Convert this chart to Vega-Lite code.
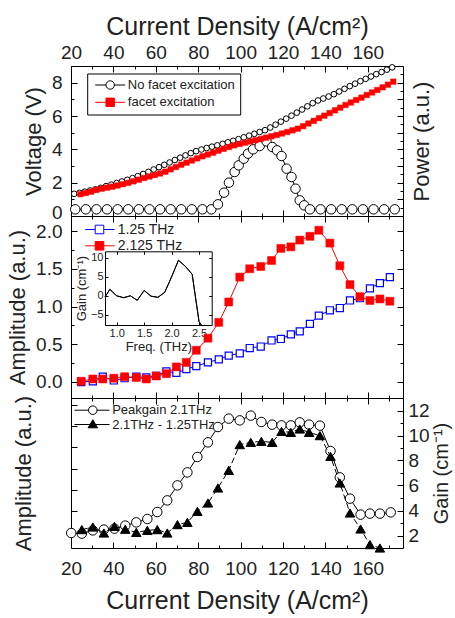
{
  "$schema": "https://vega.github.io/schema/vega-lite/v6.json",
  "padding": {"left": 6, "top": 13, "right": 4, "bottom": 4},
  "bounds": "flush",
  "spacing": 0,
  "resolve": {"scale": {"shape": "independent", "fill": "independent", "stroke": "independent"}, "legend": {"shape": "independent", "fill": "independent", "stroke": "independent"}},
  "config": {
    "view": {"stroke": "#000", "strokeWidth": 1},
    "font": "Liberation Sans",
    "axis": {"domain": false, "grid": false, "tickColor": "#000", "tickWidth": 1, "tickSize": -6, "labelFlush": false, "labelOverlap": false, "labelFont": "Liberation Sans", "labelFontSize": 19, "labelColor": "#222", "titleFont": "Liberation Sans", "titleFontSize": 22, "titleFontWeight": "normal", "titleColor": "#222"},
    "legend": {"labelFont": "Liberation Sans", "labelColor": "#222", "symbolSize": 36, "symbolStrokeWidth": 1, "symbolOpacity": 1}
  },
  "datasets": {
    "vnf": [{"j":21.5,"v":1.33},{"j":24,"v":1.39},{"j":26.5,"v":1.46},{"j":29,"v":1.53},{"j":31.5,"v":1.6},{"j":34,"v":1.69},{"j":36.5,"v":1.79},{"j":39,"v":1.88},{"j":41.5,"v":1.98},{"j":44,"v":2.07},{"j":46.5,"v":2.17},{"j":49,"v":2.27},{"j":51.5,"v":2.39},{"j":54,"v":2.52},{"j":56.5,"v":2.65},{"j":59,"v":2.79},{"j":61.5,"v":2.93},{"j":64,"v":3.07},{"j":66.5,"v":3.21},{"j":69,"v":3.36},{"j":71.5,"v":3.5},{"j":74,"v":3.64},{"j":76.5,"v":3.77},{"j":79,"v":3.89},{"j":81.5,"v":3.99},{"j":84,"v":4.08},{"j":86.5,"v":4.16},{"j":89,"v":4.24},{"j":91.5,"v":4.33},{"j":94,"v":4.42},{"j":96.5,"v":4.51},{"j":99,"v":4.61},{"j":101.5,"v":4.72},{"j":104,"v":4.82},{"j":106.5,"v":4.93},{"j":109,"v":5.04},{"j":111.5,"v":5.15},{"j":114,"v":5.31},{"j":116.5,"v":5.48},{"j":119,"v":5.66},{"j":121.5,"v":5.84},{"j":124,"v":6.02},{"j":126.5,"v":6.2},{"j":129,"v":6.39},{"j":131.5,"v":6.58},{"j":134,"v":6.77},{"j":136.5,"v":6.93},{"j":139,"v":7.05},{"j":141.5,"v":7.17},{"j":144,"v":7.31},{"j":146.5,"v":7.47},{"j":149,"v":7.63},{"j":151.5,"v":7.79},{"j":154,"v":7.94},{"j":156.5,"v":8.09},{"j":159,"v":8.23},{"j":161.5,"v":8.37},{"j":164,"v":8.51},{"j":166.5,"v":8.64},{"j":169,"v":8.78},{"j":171.5,"v":8.92}],
    "vf": [{"j":24.5,"v":1.31},{"j":27,"v":1.38},{"j":29.5,"v":1.46},{"j":32,"v":1.57},{"j":34.5,"v":1.64},{"j":37,"v":1.7},{"j":39.5,"v":1.76},{"j":42,"v":1.83},{"j":44.5,"v":1.91},{"j":47,"v":1.99},{"j":49.5,"v":2.08},{"j":52,"v":2.18},{"j":54.5,"v":2.28},{"j":57,"v":2.37},{"j":59.5,"v":2.46},{"j":62,"v":2.55},{"j":64.5,"v":2.66},{"j":67,"v":2.8},{"j":69.5,"v":2.94},{"j":72,"v":3.08},{"j":74.5,"v":3.2},{"j":77,"v":3.33},{"j":79.5,"v":3.46},{"j":82,"v":3.58},{"j":84.5,"v":3.69},{"j":87,"v":3.8},{"j":89.5,"v":3.92},{"j":92,"v":4.03},{"j":94.5,"v":4.14},{"j":97,"v":4.24},{"j":99.5,"v":4.32},{"j":102,"v":4.4},{"j":104.5,"v":4.47},{"j":107,"v":4.55},{"j":109.5,"v":4.62},{"j":112,"v":4.7},{"j":114.5,"v":4.78},{"j":117,"v":4.86},{"j":119.5,"v":4.95},{"j":122,"v":5.04},{"j":124.5,"v":5.14},{"j":127,"v":5.24},{"j":129.5,"v":5.39},{"j":132,"v":5.55},{"j":134.5,"v":5.71},{"j":137,"v":5.87},{"j":139.5,"v":6.02},{"j":142,"v":6.18},{"j":144.5,"v":6.34},{"j":147,"v":6.5},{"j":149.5,"v":6.66},{"j":152,"v":6.81},{"j":154.5,"v":6.96},{"j":157,"v":7.1},{"j":159.5,"v":7.26},{"j":162,"v":7.41},{"j":164.5,"v":7.56},{"j":167,"v":7.72},{"j":169.5,"v":7.88},{"j":172,"v":8.06}],
    "pow": [{"j":22,"p":0.4},{"j":27,"p":0.4},{"j":32,"p":0.4},{"j":37,"p":0.4},{"j":42,"p":0.4},{"j":47,"p":0.4},{"j":52,"p":0.4},{"j":57,"p":0.4},{"j":62,"p":0.4},{"j":67,"p":0.4},{"j":72,"p":0.4},{"j":77,"p":0.4},{"j":82,"p":0.4},{"j":86.2,"p":0.4},{"j":89.3,"p":0.7},{"j":92.2,"p":1.4},{"j":94.5,"p":2.0},{"j":97.2,"p":2.64},{"j":99.1,"p":3.04},{"j":101.5,"p":3.44},{"j":103.5,"p":3.74},{"j":105.9,"p":4.0},{"j":109,"p":4.2},{"j":112.2,"p":4.48},{"j":114.9,"p":4.14},{"j":117.2,"p":3.94},{"j":119.3,"p":3.6},{"j":121.7,"p":2.84},{"j":124,"p":2.34},{"j":125.9,"p":1.64},{"j":127.9,"p":0.94},{"j":130,"p":0.64},{"j":132.7,"p":0.4},{"j":137.7,"p":0.4},{"j":142.7,"p":0.4},{"j":147.7,"p":0.4},{"j":152.7,"p":0.4},{"j":157.7,"p":0.4},{"j":162.7,"p":0.4},{"j":167.7,"p":0.4},{"j":172.7,"p":0.4}],
    "a125": [{"j":24.8,"a":0.0},{"j":30.3,"a":0.01},{"j":35.0,"a":0.07},{"j":40.2,"a":0.02},{"j":45.3,"a":0.05},{"j":50.8,"a":0.07},{"j":55.5,"a":0.06},{"j":60.2,"a":0.08},{"j":65.0,"a":0.14},{"j":69.7,"a":0.12},{"j":74.4,"a":0.17},{"j":79.1,"a":0.21},{"j":84.6,"a":0.26},{"j":89.7,"a":0.3},{"j":94.4,"a":0.35},{"j":99.6,"a":0.38},{"j":104.3,"a":0.45},{"j":109.5,"a":0.47},{"j":114.6,"a":0.55},{"j":119.0,"a":0.57},{"j":123.7,"a":0.63},{"j":127.9,"a":0.67},{"j":132.7,"a":0.77},{"j":136.9,"a":0.88},{"j":142.1,"a":0.95},{"j":146.8,"a":0.98},{"j":151.6,"a":1.08},{"j":156.3,"a":1.11},{"j":161.0,"a":1.24},{"j":165.7,"a":1.31},{"j":170.4,"a":1.39}],
    "a2125": [{"j":24.8,"a":0.01},{"j":30.3,"a":0.04},{"j":35.0,"a":0.04},{"j":40.2,"a":0.05},{"j":45.3,"a":0.07},{"j":50.8,"a":0.06},{"j":55.5,"a":0.04},{"j":60.2,"a":0.08},{"j":65.0,"a":0.11},{"j":69.7,"a":0.2},{"j":74.4,"a":0.26},{"j":79.1,"a":0.42},{"j":84.6,"a":0.58},{"j":89.7,"a":0.79},{"j":94.4,"a":1.06},{"j":99.6,"a":1.39},{"j":104.3,"a":1.5},{"j":109.5,"a":1.53},{"j":114.6,"a":1.61},{"j":119.0,"a":1.77},{"j":123.7,"a":1.79},{"j":127.9,"a":1.88},{"j":132.7,"a":1.93},{"j":136.9,"a":2.01},{"j":142.1,"a":1.84},{"j":146.8,"a":1.54},{"j":151.6,"a":1.29},{"j":156.3,"a":1.13},{"j":161.0,"a":1.08},{"j":165.7,"a":1.1},{"j":170.4,"a":1.07}],
    "ins": [{"f":0.787,"g":-0.3},{"f":0.875,"g":1.7},{"f":1.0,"g":0.0},{"f":1.125,"g":-0.5},{"f":1.25,"g":0.0},{"f":1.375,"g":-1.2},{"f":1.5,"g":1.4},{"f":1.625,"g":-0.1},{"f":1.75,"g":-0.4},{"f":1.875,"g":0.9},{"f":2.0,"g":5.0},{"f":2.125,"g":9.4},{"f":2.25,"g":7.8},{"f":2.375,"g":5.7},{"f":2.5,"g":-6.8},{"f":2.54,"g":-7.72}],
    "peak": [{"j":20.1,"g":2.2},{"j":25.1,"g":2.15},{"j":30.3,"g":2.41},{"j":35.5,"g":2.47},{"j":40.5,"g":2.55},{"j":45.6,"g":2.79},{"j":50.8,"g":3.05},{"j":56.0,"g":3.32},{"j":60.7,"g":3.88},{"j":65.4,"g":4.81},{"j":70.2,"g":6.01},{"j":74.9,"g":7.05},{"j":79.6,"g":8.28},{"j":84.6,"g":9.45},{"j":89.3,"g":10.68},{"j":94.4,"g":11.35},{"j":99.6,"g":11.21},{"j":104.8,"g":11.59},{"j":109.8,"g":11.08},{"j":114.9,"g":10.87},{"j":119.3,"g":10.81},{"j":123.7,"g":10.81},{"j":127.9,"g":11.05},{"j":132.3,"g":10.87},{"j":137.4,"g":10.79},{"j":142.4,"g":8.76},{"j":146.8,"g":6.65},{"j":151.6,"g":4.95},{"j":156.6,"g":3.67},{"j":161.0,"g":3.75},{"j":165.7,"g":3.75},{"j":170.8,"g":3.85}],
    "diff": [{"j":25.1,"g":2.47},{"j":30.3,"g":2.68},{"j":35.5,"g":2.2},{"j":40.5,"g":2.73},{"j":45.6,"g":2.5},{"j":50.8,"g":2.25},{"j":56.0,"g":2.41},{"j":60.7,"g":2.47},{"j":65.4,"g":2.2},{"j":70.2,"g":2.87},{"j":74.9,"g":3.05},{"j":79.6,"g":3.93},{"j":84.6,"g":4.6},{"j":89.3,"g":5.8},{"j":94.4,"g":7.21},{"j":99.6,"g":9.27},{"j":104.8,"g":9.45},{"j":109.8,"g":9.53},{"j":114.9,"g":9.45},{"j":119.3,"g":10.33},{"j":123.7,"g":10.25},{"j":127.9,"g":10.52},{"j":132.3,"g":10.25},{"j":137.4,"g":9.99},{"j":142.4,"g":8.33},{"j":146.8,"g":6.2},{"j":151.6,"g":3.8},{"j":156.6,"g":2.52},{"j":161.0,"g":1.27},{"j":165.7,"g":1.0}],
    "legTop": [{"s": "No facet excitation"}, {"s": "facet excitation"}],
    "legMid": [{"s": "1.25 THz"}, {"s": "2.125 THz"}],
    "legBot": [{"s": "Peakgain 2.1THz"}, {"s": "2.1THz - 1.25THz"}]
  },
  "vconcat": [
    {
      "width": 332, "height": 150,
      "resolve": {"scale": {"x": "independent", "y": "independent"}, "axis": {"x": "independent", "y": "independent"}},
      "layer": [
        {"data": {"name": "pow"}, "mark": {"type": "line", "stroke": "#000", "strokeWidth": 1},
         "encoding": {
           "x": {"field": "j", "type": "quantitative", "scale": {"domain": [20, 176.6], "nice": false, "zero": false}, "axis": null},
           "y": {"field": "p", "type": "quantitative", "scale": {"domain": [0, 9], "nice": false, "zero": false}, "axis": null}}},
        {"data": {"name": "pow"}, "mark": {"type": "point", "shape": "circle", "size": 90, "fill": "#fff", "stroke": "#000", "strokeWidth": 1, "opacity": 1},
         "encoding": {
           "x": {"field": "j", "type": "quantitative", "scale": {"domain": [20, 176.6], "nice": false, "zero": false}, "axis": null},
           "y": {"field": "p", "type": "quantitative", "scale": {"domain": [0, 9], "nice": false, "zero": false}, "axis": null}}},
        {"data": {"name": "vnf"}, "mark": {"type": "line", "stroke": "#000", "strokeWidth": 1},
         "encoding": {
           "x": {"field": "j", "type": "quantitative", "scale": {"domain": [20, 176.6], "nice": false, "zero": false},
                 "axis": {"orient": "top", "values": [20,40,60,80,100,120,140,160], "title": "Current Density (A/cm²)", "titleFontSize": 25, "labelPadding": 10, "titlePadding": 4}},
           "y": {"field": "v", "type": "quantitative", "scale": {"domain": [0, 9], "nice": false, "zero": false},
                 "axis": {"orient": "left", "values": [0,2,4,6,8], "title": "Voltage (V)", "labelPadding": 15, "titlePadding": 6, "labelOffset": {"condition": {"test": "datum.value === 0", "value": -4}, "value": 0}}}}},
        {"data": {"name": "vnf"}, "mark": {"type": "point", "shape": "circle", "size": 32, "fill": "#fff", "stroke": "#000", "strokeWidth": 1, "opacity": 1},
         "encoding": {
           "x": {"field": "j", "type": "quantitative", "scale": {"domain": [20, 176.6], "nice": false, "zero": false},
                 "axis": {"orient": "top", "values": [30,50,70,90,110,130,150,170], "labels": false, "tickSize": -3, "title": null}},
           "y": {"field": "v", "type": "quantitative", "scale": {"domain": [0, 9], "nice": false, "zero": false},
                 "axis": {"orient": "left", "values": [1,3,5,7,9], "labels": false, "tickSize": -3, "title": null}}}},
        {"data": {"name": "vf"}, "mark": {"type": "line", "stroke": "#ff0000", "strokeWidth": 1},
         "encoding": {
           "x": {"field": "j", "type": "quantitative", "scale": {"domain": [20, 176.6], "nice": false, "zero": false},
                 "axis": {"orient": "bottom", "values": [20,40,60,80,100,120,140,160], "labels": false, "title": null}},
           "y": {"field": "v", "type": "quantitative", "scale": {"domain": [0, 9], "nice": false, "zero": false},
                 "axis": {"orient": "right", "values": [0,1,2,3,4,5,6,7,8,9], "labels": false, "title": "Power (a.u.)", "titleAngle": 270, "titleBaseline": "top", "titlePadding": 8}}}},
        {"data": {"name": "vf"}, "mark": {"type": "point", "shape": "square", "size": 30, "fill": "#ff0000", "stroke": "#ff0000", "strokeWidth": 0.5, "opacity": 1},
         "encoding": {
           "x": {"field": "j", "type": "quantitative", "scale": {"domain": [20, 176.6], "nice": false, "zero": false},
                 "axis": {"orient": "bottom", "values": [30,50,70,90,110,130,150,170], "labels": false, "tickSize": -3, "title": null}},
           "y": {"field": "v", "type": "quantitative", "scale": {"domain": [0, 9], "nice": false, "zero": false},
                 "axis": {"orient": "right", "values": [0.5,1.5,2.5,3.5,4.5,5.5,6.5,7.5,8.5], "labels": false, "tickSize": -3, "title": null}}}},
        {"data": {"name": "legTop"}, "mark": {"type": "point", "size": 36, "strokeWidth": 1, "opacity": 0},
         "encoding": {
           "shape": {"field": "s", "type": "nominal", "scale": {"domain": ["No facet excitation", "facet excitation"], "range": ["M-1.17,0H2.43M5.23,0H8.83M5.23,0A1.4,1.4 0 1 1 2.43,0A1.4,1.4 0 1 1 5.23,0", "M-1.17,0H8.83M2.43,-1.4H5.23V1.4H2.43Z"]},
                     "legend": {"title": null, "orient": "none", "legendX": 16.2, "legendY": 7.5, "direction": "vertical", "padding": 5, "strokeColor": "#000", "fillColor": "#fff", "labelFontSize": 13, "symbolOffset": 0, "labelOffset": 22.6, "rowPadding": 3.3}},
           "fill": {"field": "s", "type": "nominal", "scale": {"domain": ["No facet excitation", "facet excitation"], "range": ["#ffffff", "#ff0000"]},
                     "legend": {"title": null, "orient": "none", "legendX": 16.2, "legendY": 7.5, "direction": "vertical", "padding": 5, "strokeColor": "#000", "fillColor": "#fff", "labelFontSize": 13, "symbolOffset": 0, "labelOffset": 22.6, "rowPadding": 3.3}},
           "stroke": {"field": "s", "type": "nominal", "scale": {"domain": ["No facet excitation", "facet excitation"], "range": ["#000000", "#ff0000"]},
                     "legend": {"title": null, "orient": "none", "legendX": 16.2, "legendY": 7.5, "direction": "vertical", "padding": 5, "strokeColor": "#000", "fillColor": "#fff", "labelFontSize": 13, "symbolOffset": 0, "labelOffset": 22.6, "rowPadding": 3.3}}}}
      ]
    },
    {
      "width": 332, "height": 182,
      "resolve": {"scale": {"x": "independent", "y": "independent"}, "axis": {"x": "independent", "y": "independent"}},
      "layer": [
        {"data": {"name": "a125"}, "mark": {"type": "line", "stroke": "#0000ff", "strokeWidth": 1},
         "encoding": {
           "x": {"field": "j", "type": "quantitative", "scale": {"domain": [20, 176.6], "nice": false, "zero": false},
                 "axis": {"orient": "top", "values": [20,40,60,80,100,120,140,160], "labels": false, "title": null}},
           "y": {"field": "a", "type": "quantitative", "scale": {"domain": [-0.212, 2.199], "nice": false, "zero": false},
                 "axis": {"orient": "left", "values": [0,0.5,1,1.5,2], "format": ".1f", "title": "Amplitude (a.u.)", "labelPadding": 15, "titlePadding": 6}}}},
        {"data": {"name": "a125"}, "mark": {"type": "point", "shape": "square", "size": 50, "fill": "#fff", "stroke": "#0000ff", "strokeWidth": 1.2, "opacity": 1},
         "encoding": {
           "x": {"field": "j", "type": "quantitative", "scale": {"domain": [20, 176.6], "nice": false, "zero": false},
                 "axis": {"orient": "top", "values": [30,50,70,90,110,130,150,170], "labels": false, "tickSize": -3, "title": null}},
           "y": {"field": "a", "type": "quantitative", "scale": {"domain": [-0.212, 2.199], "nice": false, "zero": false},
                 "axis": {"orient": "left", "values": [0.25,0.75,1.25,1.75], "labels": false, "tickSize": -3, "title": null}}}},
        {"data": {"name": "a2125"}, "mark": {"type": "line", "stroke": "#ff0000", "strokeWidth": 1},
         "encoding": {
           "x": {"field": "j", "type": "quantitative", "scale": {"domain": [20, 176.6], "nice": false, "zero": false},
                 "axis": {"orient": "bottom", "values": [20,40,60,80,100,120,140,160], "labels": false, "title": null}},
           "y": {"field": "a", "type": "quantitative", "scale": {"domain": [-0.212, 2.199], "nice": false, "zero": false},
                 "axis": {"orient": "right", "values": [0,0.5,1,1.5,2], "labels": false, "title": null}}}},
        {"data": {"name": "a2125"}, "mark": {"type": "point", "shape": "square", "size": 64, "fill": "#ff0000", "stroke": "#ff0000", "strokeWidth": 0.5, "opacity": 1},
         "encoding": {
           "x": {"field": "j", "type": "quantitative", "scale": {"domain": [20, 176.6], "nice": false, "zero": false},
                 "axis": {"orient": "bottom", "values": [30,50,70,90,110,130,150,170], "labels": false, "tickSize": -3, "title": null}},
           "y": {"field": "a", "type": "quantitative", "scale": {"domain": [-0.212, 2.199], "nice": false, "zero": false},
                 "axis": {"orient": "right", "values": [0.25,0.75,1.25,1.75], "labels": false, "tickSize": -3, "title": null}}}},
        {"data": {"name": "ins"}, "mark": {"type": "line", "stroke": "#000", "strokeWidth": 1},
         "encoding": {
           "x": {"field": "f", "type": "quantitative", "scale": {"domain": [0.787, 2.731], "range": [34, 140.7], "nice": false, "zero": false},
                 "axis": {"orient": "bottom", "offset": -73, "values": [1,1.5,2,2.5], "format": ".1f", "labelFontSize": 11, "tickSize": -3, "labelPadding": 5, "title": "Freq. (THz)", "titleFontSize": 13, "titlePadding": 2, "domain": true, "domainColor": "#000"}},
           "y": {"field": "g", "type": "quantitative", "scale": {"domain": [-7.72, 11.77], "range": [109, 35.3], "nice": false, "zero": false},
                 "axis": {"orient": "left", "offset": -34, "values": [-5,0,5,10], "labelFontSize": 11, "tickSize": -3, "labelPadding": 5, "title": "Gain (cm⁻¹)", "titleFontSize": 13, "titlePadding": 2, "domain": true, "domainColor": "#000"}}}},
        {"data": {"name": "ins"}, "mark": {"type": "line", "stroke": "#000", "strokeWidth": 1},
         "encoding": {
           "x": {"field": "f", "type": "quantitative", "scale": {"domain": [0.787, 2.731], "range": [34, 140.7], "nice": false, "zero": false},
                 "axis": {"orient": "top", "offset": -35.3, "values": [1,1.5,2,2.5], "labels": false, "tickSize": -3, "title": null, "domain": true, "domainColor": "#000"}},
           "y": {"field": "g", "type": "quantitative", "scale": {"domain": [-7.72, 11.77], "range": [109, 35.3], "nice": false, "zero": false},
                 "axis": {"orient": "right", "offset": -191.3, "values": [-5,0,5,10], "labels": false, "tickSize": -3, "title": null, "domain": true, "domainColor": "#000"}}}},
        {"data": {"name": "legMid"}, "mark": {"type": "point", "size": 36, "strokeWidth": 1.2, "opacity": 0},
         "encoding": {
           "shape": {"field": "s", "type": "nominal", "scale": {"domain": ["1.25 THz", "2.125 THz"], "range": ["M-0.93,0H2.4M5.26,0H8.83M2.4,-1.43H5.26V1.43H2.4Z", "M-0.93,0H8.83M2.4,-1.43H5.26V1.43H2.4Z"]},
                     "legend": {"title": null, "orient": "none", "legendX": 10, "legendY": 6.5, "direction": "vertical", "padding": 0, "labelFontSize": 14, "symbolOffset": 0, "labelOffset": 22.8, "rowPadding": 2.3}},
           "fill": {"field": "s", "type": "nominal", "scale": {"domain": ["1.25 THz", "2.125 THz"], "range": ["#ffffff", "#ff0000"]},
                     "legend": {"title": null, "orient": "none", "legendX": 10, "legendY": 6.5, "direction": "vertical", "padding": 0, "labelFontSize": 14, "symbolOffset": 0, "labelOffset": 22.8, "rowPadding": 2.3}},
           "stroke": {"field": "s", "type": "nominal", "scale": {"domain": ["1.25 THz", "2.125 THz"], "range": ["#0000ff", "#ff0000"]},
                     "legend": {"title": null, "orient": "none", "legendX": 10, "legendY": 6.5, "direction": "vertical", "padding": 0, "labelFontSize": 14, "symbolOffset": 0, "labelOffset": 22.8, "rowPadding": 2.3}}}}
      ]
    },
    {
      "width": 332, "height": 150,
      "resolve": {"scale": {"x": "independent", "y": "independent"}, "axis": {"x": "independent", "y": "independent"}},
      "layer": [
        {"data": {"name": "peak"}, "mark": {"type": "line", "stroke": "#000", "strokeWidth": 1},
         "encoding": {
           "x": {"field": "j", "type": "quantitative", "scale": {"domain": [20, 176.6], "nice": false, "zero": false},
                 "axis": {"orient": "bottom", "values": [20,40,60,80,100,120,140,160], "title": "Current Density (A/cm²)", "titleFontSize": 25, "labelPadding": 17, "titlePadding": 10}},
           "y": {"field": "g", "type": "quantitative", "scale": {"domain": [1, 13], "nice": false, "zero": false},
                 "axis": {"orient": "right", "values": [2,4,6,8,10,12], "title": "Gain (cm⁻¹)", "titleFontSize": 20, "labelPadding": 11, "titlePadding": 2, "titleAngle": 270, "titleBaseline": "top"}}}},
        {"data": {"name": "peak"}, "mark": {"type": "point", "shape": "circle", "size": 90, "fill": "#fff", "stroke": "#000", "strokeWidth": 1, "opacity": 1},
         "encoding": {
           "x": {"field": "j", "type": "quantitative", "scale": {"domain": [20, 176.6], "nice": false, "zero": false},
                 "axis": {"orient": "bottom", "values": [30,50,70,90,110,130,150,170], "labels": false, "tickSize": -3, "title": null}},
           "y": {"field": "g", "type": "quantitative", "scale": {"domain": [1, 13], "nice": false, "zero": false},
                 "axis": {"orient": "right", "values": [3,5,7,9,11], "labels": false, "tickSize": -3, "title": null}}}},
        {"data": {"name": "diff"}, "mark": {"type": "line", "stroke": "#000", "strokeWidth": 1, "strokeDash": [6, 3]},
         "encoding": {
           "x": {"field": "j", "type": "quantitative", "scale": {"domain": [20, 176.6], "nice": false, "zero": false},
                 "axis": {"orient": "top", "values": [20,40,60,80,100,120,140,160], "labels": false, "title": null}},
           "y": {"field": "g", "type": "quantitative", "scale": {"domain": [1, 13], "nice": false, "zero": false},
                 "axis": {"orient": "left", "values": [2.2,3.94,5.66,7.32,9.08,10.78,12.46], "labels": false, "title": "Amplitude (a.u.)", "titlePadding": 35}}}},
        {"data": {"name": "diff"}, "mark": {"type": "point", "shape": "triangle-up", "size": 90, "fill": "#000", "stroke": "#000", "strokeWidth": 1, "opacity": 1},
         "encoding": {
           "x": {"field": "j", "type": "quantitative", "scale": {"domain": [20, 176.6], "nice": false, "zero": false},
                 "axis": {"orient": "top", "values": [30,50,70,90,110,130,150,170], "labels": false, "tickSize": -3, "title": null}},
           "y": {"field": "g", "type": "quantitative", "scale": {"domain": [1, 13], "nice": false, "zero": false}, "axis": null}}},
        {"data": {"name": "legBot"}, "mark": {"type": "point", "size": 36, "strokeWidth": 1, "opacity": 0},
         "encoding": {
           "shape": {"field": "s", "type": "nominal", "scale": {"domain": ["Peakgain 2.1THz", "2.1THz - 1.25THz"], "range": ["M-1.67,0H3M5.86,0H10M5.86,0A1.43,1.43 0 1 1 3,0A1.43,1.43 0 1 1 5.86,0", "M-1.67,0H10M4.43,-1.6L5.98,1.1H2.88Z"]},
                     "legend": {"title": null, "orient": "none", "legendX": 2, "legendY": 5.7, "direction": "vertical", "padding": 0, "labelFontSize": 13, "symbolOffset": 0, "labelOffset": 26.2, "rowPadding": -0.7}},
           "fill": {"field": "s", "type": "nominal", "scale": {"domain": ["Peakgain 2.1THz", "2.1THz - 1.25THz"], "range": ["#ffffff", "#000000"]},
                     "legend": {"title": null, "orient": "none", "legendX": 2, "legendY": 5.7, "direction": "vertical", "padding": 0, "labelFontSize": 13, "symbolOffset": 0, "labelOffset": 26.2, "rowPadding": -0.7}},
           "stroke": {"field": "s", "type": "nominal", "scale": {"domain": ["Peakgain 2.1THz", "2.1THz - 1.25THz"], "range": ["#000000", "#000000"]},
                     "legend": {"title": null, "orient": "none", "legendX": 2, "legendY": 5.7, "direction": "vertical", "padding": 0, "labelFontSize": 13, "symbolOffset": 0, "labelOffset": 26.2, "rowPadding": -0.7}}}}
      ]
    }
  ]
}
